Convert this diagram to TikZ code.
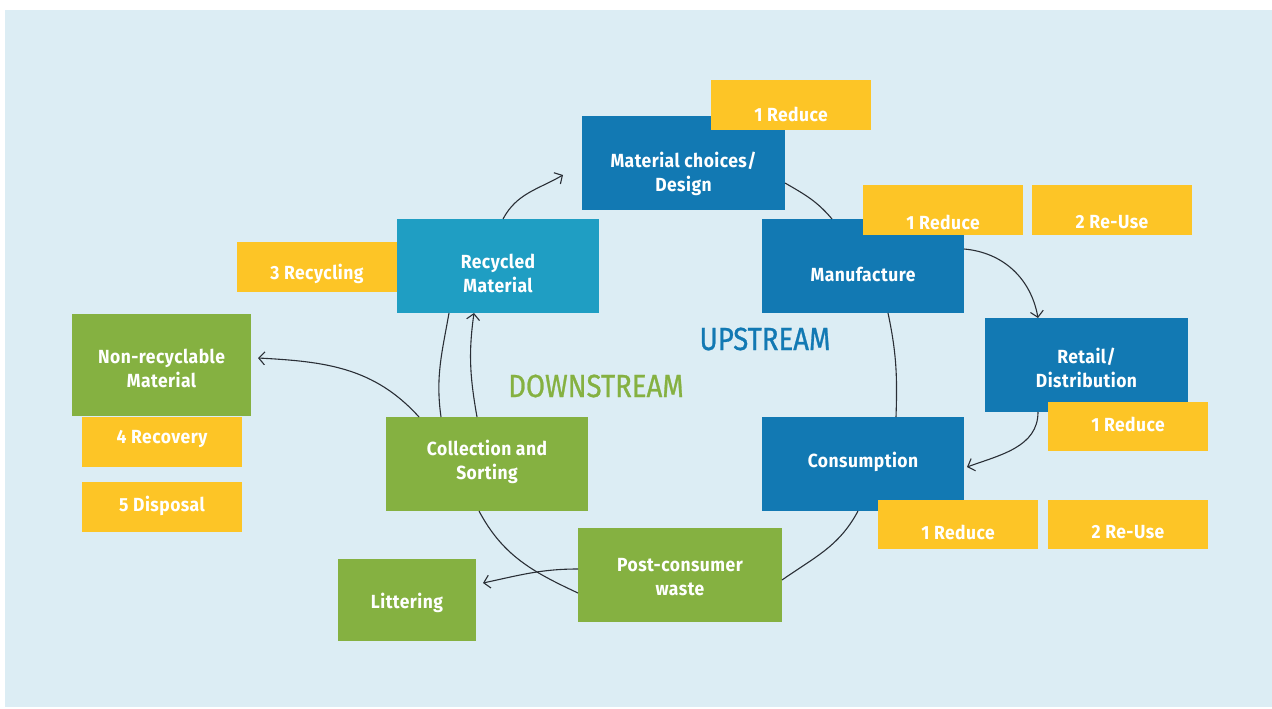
\documentclass[tikz,border=0pt]{standalone}
\usepackage{fontspec}
\setmainfont{Fira Sans}[FakeStretch=0.86]
\newfontfamily\boxfont{Fira Sans}[FakeStretch=0.92, LetterSpace=2.5]
\newfontfamily\streamfont{Fira Sans}[FakeStretch=0.86, FakeBold=0.8]
\usetikzlibrary{arrows.meta}
\definecolor{bg}{HTML}{DCEDF4}
\definecolor{upblue}{HTML}{1279B3}
\definecolor{teal}{HTML}{1F9EC3}
\definecolor{dgreen}{HTML}{85B141}
\definecolor{amber}{HTML}{FDC526}
\definecolor{wire}{HTML}{2A2F36}
\tikzset{
  x=1pt, y=1pt,
  panel/.style={draw=none, inner sep=0pt, outer sep=0pt},
  bluebox/.style={panel, fill=upblue, minimum width=203, minimum height=94},
  tealbox/.style={panel, fill=teal, minimum width=203, minimum height=94},
  greenbox/.style={panel, fill=dgreen, minimum width=203, minimum height=94},
  tag/.style={panel, fill=amber, minimum width=160, minimum height=50},
  caption/.style={text=white, align=center, font=\boxfont\fontsize{19}{24}\selectfont\bfseries, inner sep=0pt},
  flow/.style={draw=wire, line width=1.1pt},
  flowarrow/.style={flow, -{Straight Barb[length=6pt,width=13pt,line width=1.1pt]}},
  stream/.style={font=\streamfont\fontsize{32}{36}\selectfont, inner sep=0pt}
}
\begin{document}
\begin{tikzpicture}
% page and background panel
\useasboundingbox (0,0) rectangle (1272,-709);
\fill[white] (0,0) rectangle (1272,-709);
\fill[bg] (5,-10) rectangle (1272,-707);

% upstream boxes with their tags
\node[bluebox] (mat) at (683.5,-163) {};
\node[caption] (matT) at (683.5,-173.5) {Material choices/\\Design};
\node[tag] (red1) at (791,-105) {};
\node[caption] (red1T) at (791,-114) {1 Reduce};

\node[bluebox, minimum width=202] (man) at (863,-266) {};
\node[caption] (manT) at (863,-274) {Manufacture};
\node[tag] (red2) at (943,-210) {};
\node[caption] (red2T) at (943,-222) {1 Reduce};
\node[tag] (reu2) at (1112,-210) {};
\node[caption] (reu2T) at (1112,-222) {2 Re-Use};

\node[bluebox] (ret) at (1086.5,-365) {};
\node[caption] (retT) at (1086.5,-368) {Retail/\\Distribution};
\node[tag, minimum height=49] (red3) at (1128,-426.5) {};
\node[caption] (red3T) at (1128,-424) {1 Reduce};

\node[bluebox, minimum width=202] (con) at (863,-464) {};
\node[caption] (conT) at (863,-462) {Consumption};
\node[tag, minimum height=49] (red4) at (958,-524.5) {};
\node[caption] (red4T) at (958,-532) {1 Reduce};
\node[tag, minimum height=49] (reu4) at (1128,-524.5) {};
\node[caption] (reu4T) at (1128,-532) {2 Re-Use};

% downstream boxes
\node[greenbox, minimum width=204] (pcw) at (680,-575) {};
\node[caption] (pcwT) at (680,-577.5) {Post-consumer\\waste};
\node[greenbox, minimum width=138, minimum height=82] (lit) at (407,-600) {};
\node[caption] (litT) at (407,-603) {Littering};
\node[greenbox, minimum width=202] (col) at (487,-464) {};
\node[caption] (colT) at (487,-461.5) {Collection and\\Sorting};
\node[greenbox, minimum width=179, minimum height=102] (non) at (161.5,-365) {};
\node[caption] (nonT) at (161.5,-368.5) {Non-recyclable\\Material};
\node[tag] (rcv) at (162,-442) {};
\node[caption] (rcvT) at (162,-439) {4 Recovery};
\node[tag] (dsp) at (162,-507) {};
\node[caption] (dspT) at (162,-506) {5 Disposal};

% recycling loop
\node[tag] (ryc) at (317,-267) {};
\node[caption] (rycT) at (317,-274) {3 Recycling};
\node[tealbox, minimum width=202] (rec) at (498,-266) {};
\node[caption] (recT) at (498,-273.5) {Recycled\\Material};

% stream labels
\node[stream, text=upblue] (up) at (765,-339) {UPSTREAM};
\node[stream, text=dgreen] (down) at (596,-386) {DOWNSTREAM};

% connectors
\draw[flowarrow] ([xshift=5]rec.north) to[out=62, in=210] ([xshift=-19,yshift=-12]mat.west);
\draw[flow] ([yshift=-20]mat.east) to[out=-30, in=130] ([xshift=-31]man.north);
\draw[flowarrow] ([yshift=17]man.east) to[out=-5, in=100] ([xshift=-48.5]ret.north);
\draw[flow] ([xshift=25]man.south) to[out=-78, in=88] ([xshift=33]con.north);
\draw[flowarrow] ([xshift=-48.5]ret.south) to[out=-90, in=20] ([xshift=3,yshift=-3]con.east);
\draw[flow] ([xshift=-5]con.south) to[out=-118, in=35] ([yshift=-5]pcw.east);
\draw[flow] ([xshift=-8]col.south) to[out=-62, in=155] ([yshift=-18]pcw.west);
\draw[flowarrow] ([yshift=6]pcw.west) to[out=180, in=12] ([xshift=7,yshift=17]lit.east);
\draw[flowarrow] ([xshift=-68]col.north) to[out=132, in=-3] ([xshift=7,yshift=7]non.east);
\draw[flow] ([xshift=-49]rec.south) to[out=-100, in=98] ([xshift=-46]col.north);
\draw[flowarrow] ([xshift=-10]col.north) to[out=100, in=-98] ([xshift=-24]rec.south);
\end{tikzpicture}
\end{document}
